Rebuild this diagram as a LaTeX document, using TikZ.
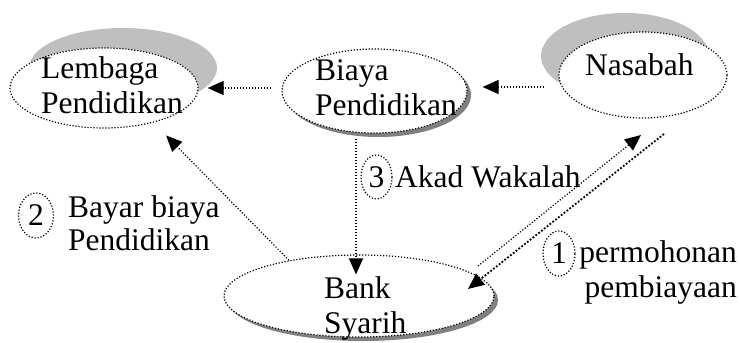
\documentclass[tikz,border=0pt]{standalone}
\usepackage{fontspec}
\setmainfont{Liberation Serif}
\usetikzlibrary{shapes,arrows.meta,shadows}
\tikzset{oval/.style={ellipse,draw=black,fill=white,line width=1.2pt,dash pattern=on 1.2pt off 1.8pt,inner sep=0pt}}
\tikzset{ltshade/.style 2 args={general shadow={fill=black!25,shadow xshift=#1,shadow yshift=#2}}}
\tikzset{dkshade/.style={general shadow={fill=black!50,shadow xshift=4pt,shadow yshift=-4pt}}}
\tikzset{txt/.style={inner sep=0pt,font=\fontsize{31.5}{35}\selectfont}}
\tikzset{num/.style={oval,txt,minimum width=32pt,minimum height=45pt}}
\tikzset{link/.style={line width=1.2pt,dash pattern=on 1.2pt off 1.8pt,-{Triangle[length=16pt,width=14pt]}}}

\begin{document}
\begin{tikzpicture}[x=1pt,y=-1pt]
\useasboundingbox (0,0) rectangle (740,343);
\node (lembaga) at (104,88) [oval,ltshade={19pt}{20pt},minimum width=188pt,minimum height=80pt] {};
\node (biaya) at (374.5,91) [oval,dkshade,minimum width=185pt,minimum height=84pt] {};
\node (nasabah) at (643,75) [oval,ltshade={-18pt}{19pt},minimum width=168pt,minimum height=86pt] {};
\node (bank) at (359,296) [oval,dkshade,minimum width=270pt,minimum height=82pt] {};
\node (lembagatxt) at (41,113) [txt,anchor=base west,align=left] {Lembaga\\Pendidikan};
\node (biayatxt) at (315,115) [txt,anchor=base west,align=left] {Biaya\\Pendidikan};
\node (nasabahtxt) at (585,75) [txt,anchor=base west] {Nasabah};
\node (banktxt) at (324,333) [txt,anchor=base west,align=left] {Bank\\Syarih};
\node (n1) at (559,253.5) [num] {1};
\node (n2) at (36,215.5) [num,minimum width=35pt] {2};
\node (n3) at (376.5,177) [num,minimum width=31pt,minimum height=44pt] {3};
\node (l1) at (737,297) [txt,anchor=base east,align=right] {permohonan\\pembiayaan};
\node (l2) at (68,250) [txt,anchor=base west,align=left,font=\fontsize{31.5}{33}\selectfont] {Bayar biaya\\Pendidikan};
\node (l3) at (395,187) [txt,anchor=base west] {Akad Wakalah};
\draw[link,shorten <=10pt,shorten >=9pt] (lembaga.east -| biaya.west) -- (lembaga.east);
\draw[link,shorten <=14pt,shorten >=15pt] ([yshift=-12pt]nasabah.west) -- ([yshift=-12pt]nasabah.west -| biaya.east);
\draw[link,shorten <=5pt] ([xshift=-3pt]bank.north |- biaya.south) -- ([shift={(-3pt,-20pt)}]bank.north);
\draw[link,shorten >=18pt] (bank.153) -- (lembaga.-35);
\draw[link] ([shift={(119pt,30pt)}]bank.center) -- ([shift={(-2pt,-60pt)}]nasabah.center);
\draw[link,line width=1.8pt,dash pattern=on 1.8pt off 1.8pt] ([shift={(21pt,-59pt)}]nasabah.center) -- ([shift={(109pt,7pt)}]bank.center);
\end{tikzpicture}
\end{document}
